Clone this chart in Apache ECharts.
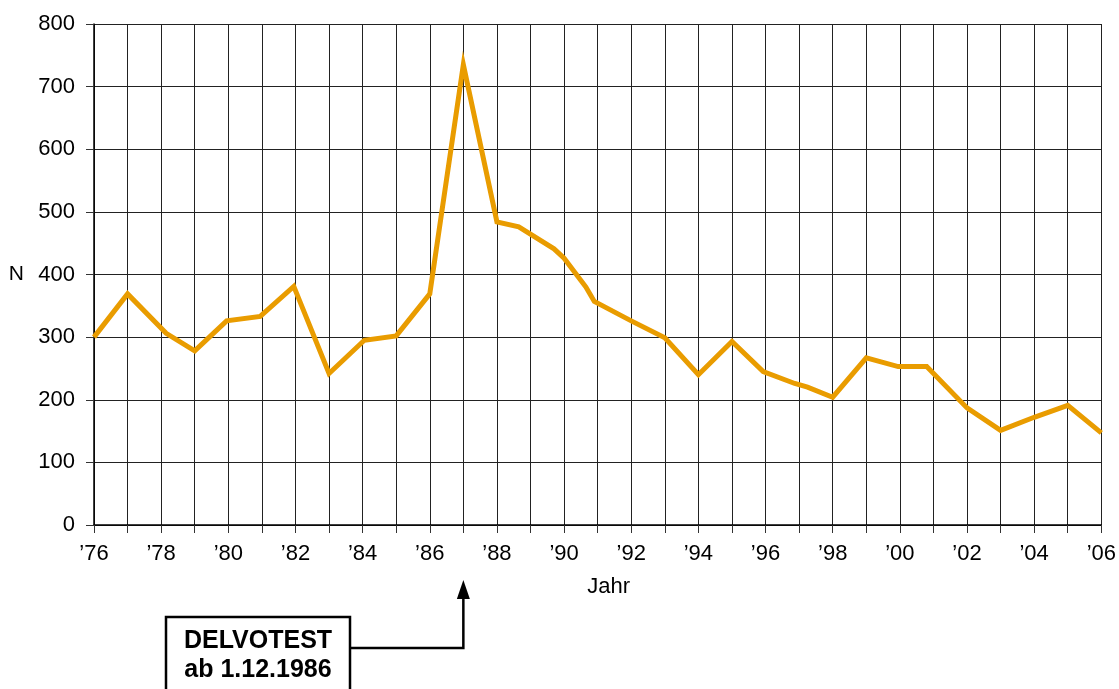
<!DOCTYPE html>
<html>
<head>
<meta charset="utf-8">
<script src="https://cdn.jsdelivr.net/npm/echarts@6/dist/echarts.min.js"></script>
<style>
html,body{margin:0;padding:0;background:#fff;}
#c{width:1119px;height:689px;}
</style>
</head>
<body>
<div id="c"></div>
<script>
// Data (fractional year positions)
const years = [1976, 1977, 1978.15, 1979, 1979.95, 1980.95, 1981.95, 1983, 1984.05, 1985, 1986, 1987, 1988, 1988.65, 1989.7, 1990, 1990.65, 1990.9, 1992, 1993, 1994, 1995, 1995.93, 1996.87, 1997.25, 1998, 1999, 1999.95, 2000.8, 2002, 2003, 2004, 2005, 2006];
const values = [300, 369, 306, 278, 326, 333, 381, 242, 295, 302, 369, 735, 484, 476, 441, 426, 380, 357, 326, 299, 240, 293, 245, 226, 220, 204, 267, 253, 253, 187, 151, 172, 191, 147];
const yTicks = [0, 100, 200, 300, 400, 500, 600, 700, 800];
const xAxisName = 'Jahr';
const yAxisName = 'N';
const noteLines = ['DELVOTEST', 'ab 1.12.1986'];
const noteYear = 1987;

const FONT = '"Liberation Sans", Arial, Helvetica, sans-serif';
const chart = echarts.init(document.getElementById('c'), null, {renderer: 'canvas'});

const option = {
  animation: false,
  backgroundColor: '#fff',
  grid: {left: 94, right: 17, top: 24, bottom: 164, containLabel: false},
  xAxis: {
    type: 'value',
    min: 1976, max: 2006, interval: 1,
    name: xAxisName,
    nameLocation: 'middle',
    nameGap: 51,
    nameTextStyle: {fontFamily: FONT, fontSize: 22, color: '#000', padding: [0, 0, 0, 22]},
    axisLine: {show: true, lineStyle: {color: '#000', width: 1.5}},
    axisTick: {show: true, length: 8, lineStyle: {color: '#333', width: 1}},
    axisLabel: {
      margin: 18, fontFamily: FONT, fontSize: 22, color: '#000',
      formatter: v => (Math.round(v) % 2 === 0 ? '\u2019' + String(Math.round(v)).slice(2) : '')
    },
    splitLine: {show: true, lineStyle: {color: '#222', width: 1}}
  },
  yAxis: {
    type: 'value',
    min: yTicks[0], max: yTicks[yTicks.length - 1], interval: 100,
    name: yAxisName,
    nameLocation: 'middle',
    nameRotate: 0,
    nameGap: 70,
    nameTextStyle: {fontFamily: FONT, fontSize: 21, color: '#000'},
    axisLine: {show: true, lineStyle: {color: '#000', width: 1.5}},
    axisTick: {show: true, length: 8, lineStyle: {color: '#333', width: 1}},
    axisLabel: {margin: 19, fontFamily: FONT, fontSize: 22, color: '#000'},
    splitLine: {show: true, lineStyle: {color: '#222', width: 1}}
  },
  series: [{
    type: 'line',
    data: years.map((y, i) => [y, values[i]]),
    symbol: 'none',
    lineStyle: {color: '#E99C00', width: 5, join: 'miter'},
    z: 5
  }]
};
chart.setOption(option);

// Annotation box with arrow pointing at the Delvotest year
const ax = chart.convertToPixel({gridIndex: 0}, [noteYear, 0])[0];
const boxL = 166, boxR = 350, boxT = 617, boxH = 90, lineY = 648;
chart.setOption({
  graphic: [
    {type: 'rect', shape: {x: boxL, y: boxT, width: boxR - boxL, height: boxH},
     style: {fill: '#fff', stroke: '#000', lineWidth: 2.5}},
    {type: 'text', x: (boxL + boxR) / 2, y: 641,
     style: {text: noteLines[0], fontFamily: FONT, fontSize: 25, fontWeight: 'bold', fill: '#000', textAlign: 'center', textVerticalAlign: 'middle'}},
    {type: 'text', x: (boxL + boxR) / 2, y: 670,
     style: {text: noteLines[1], fontFamily: FONT, fontSize: 25, fontWeight: 'bold', fill: '#000', textAlign: 'center', textVerticalAlign: 'middle'}},
    {type: 'polyline', shape: {points: [[boxR, lineY], [ax, lineY], [ax, 596]]},
     style: {stroke: '#000', lineWidth: 2.5, fill: null}},
    {type: 'polygon', shape: {points: [[ax, 580], [ax - 6.5, 599], [ax + 6.5, 599]]},
     style: {fill: '#000'}}
  ]
});
</script>
</body>
</html>
